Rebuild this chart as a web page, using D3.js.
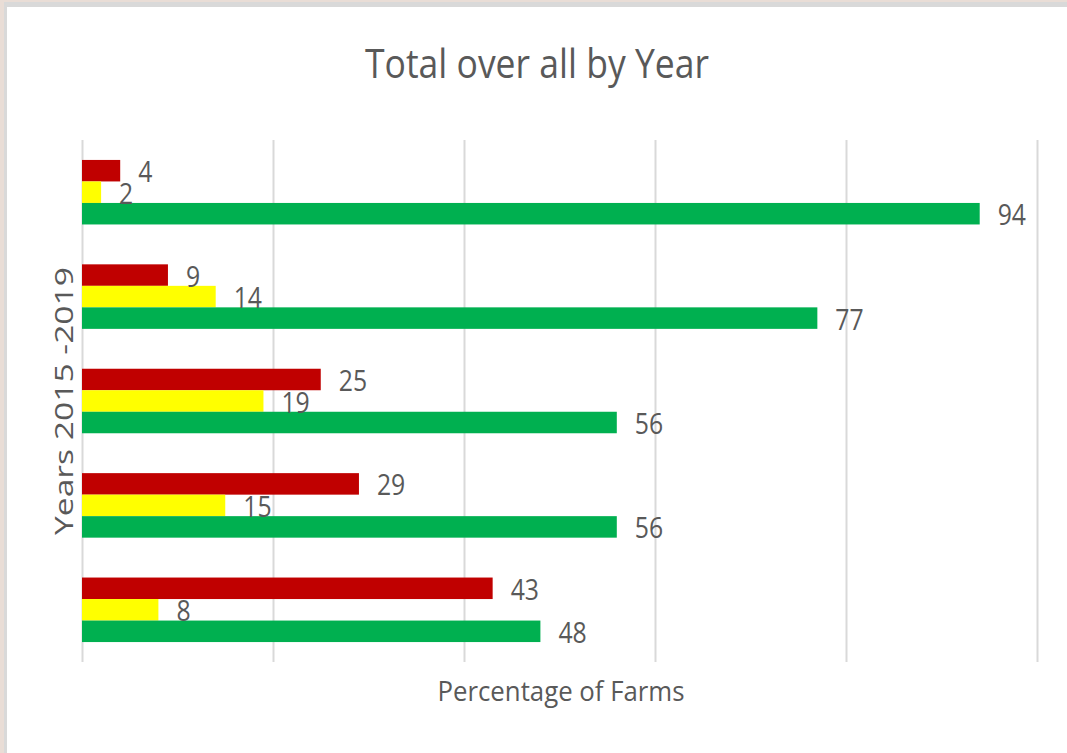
<!DOCTYPE html>
<html>
<head>
<meta charset="utf-8">
<script src="https://cdn.jsdelivr.net/npm/d3@7"></script>
<style>
  html, body { margin: 0; padding: 0; background: #e9ddd6; }
  svg { display: block; }
  text { font-family: "Open Sans", "Noto Sans", sans-serif; fill: #595959; }
</style>
</head>
<body>
<svg id="chart" width="1067" height="753"></svg>
<script>
// ---- data ----
const years = ["2015", "2016", "2017", "2018", "2019"];
const seriesKeys = ["red", "yellow", "green"];
const redValues = [43, 29, 25, 9, 4];
const yellowValues = [8, 15, 19, 14, 2];
const greenValues = [48, 56, 56, 77, 94];
const xTickValues = [0, 20, 40, 60, 80, 100];
const titleText = "Total over all by Year";
const xTitleText = "Percentage of Farms";
const yTitleText = "Years 2015 -2019";

const colors = { red: "#C00000", yellow: "#FFFF00", green: "#00B050" };
const valuesByKey = { red: redValues, yellow: yellowValues, green: greenValues };

const rows = years.map((y, i) => ({
  year: y,
  items: seriesKeys.map(k => ({ key: k, value: valuesByKey[k][i] }))
}));

const svg = d3.select("#chart");

// frame
svg.append("rect").attr("x", 0).attr("y", 0).attr("width", 1067).attr("height", 753).attr("fill", "#e9ddd6");
svg.append("rect").attr("x", 4).attr("y", 2).attr("width", 1063).attr("height", 751).attr("fill", "#d9d9d9");
svg.append("rect").attr("x", 7).attr("y", 7).attr("width", 1060).attr("height", 746).attr("fill", "#ffffff");

// scales
const x = d3.scaleLinear().domain([0, 100]).range([82, 1037]);
const gap = 0.382;
const y0 = d3.scaleBand().domain(years.slice().reverse()).range([140, 662])
  .paddingInner(gap).paddingOuter(gap / 2);
const y1 = d3.scaleBand().domain(seriesKeys).range([0, y0.bandwidth()]);

// gridlines via axis
const gridAxis = d3.axisBottom(x).tickValues(xTickValues).tickSize(-(662 - 140)).tickFormat("");
const grid = svg.append("g").attr("transform", "translate(0,662)").call(gridAxis);
grid.select(".domain").remove();
grid.selectAll(".tick line").attr("stroke", "#d9d9d9").attr("stroke-width", 2);

// bars
const groups = svg.append("g").selectAll("g").data(rows).join("g")
  .attr("transform", d => `translate(0,${y0(d.year)})`);

groups.selectAll("rect").data(d => d.items).join("rect")
  .attr("x", x(0))
  .attr("y", d => y1(d.key))
  .attr("width", d => x(d.value) - x(0))
  .attr("height", y1.bandwidth())
  .attr("fill", d => colors[d.key]);

// data labels
const labelScale = 0.84;
groups.selectAll("g.lbl").data(d => d.items).join("g")
  .attr("class", "lbl")
  .attr("transform", d => `translate(${x(d.value) + 18},${y1(d.key) + y1.bandwidth() / 2 + 11.5}) scale(${labelScale},1)`)
  .append("text")
  .attr("font-size", 29.5)
  .text(d => d.value);

// title
function fitText(sel, w) {
  sel.attr("textLength", w).attr("lengthAdjust", "spacingAndGlyphs");
}
svg.append("text")
  .attr("x", 537).attr("y", 78)
  .attr("text-anchor", "middle")
  .attr("font-size", 40)
  .text(titleText)
  .call(fitText, 344);

// x axis title
svg.append("text")
  .attr("x", 561).attr("y", 701)
  .attr("text-anchor", "middle")
  .attr("font-size", 26.5)
  .text(xTitleText)
  .call(fitText, 247);

// y axis title
svg.append("text")
  .attr("transform", "translate(73,401) rotate(-90)")
  .attr("text-anchor", "middle")
  .attr("font-size", 25)
  .text(yTitleText)
  .call(fitText, 268);
</script>
</body>
</html>
